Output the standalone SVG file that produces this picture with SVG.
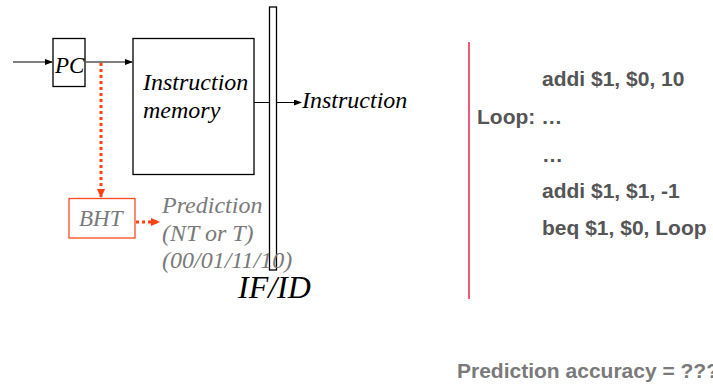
<svg xmlns="http://www.w3.org/2000/svg" width="713" height="387" viewBox="0 0 713 387">
<style>
.box{fill:#fff;stroke:#000;stroke-width:1.3}
.ser{font-family:"Liberation Serif","Times New Roman",serif;font-style:italic}
.wire{stroke:#000;stroke-width:1.2;fill:none}
.dot{stroke:#ff4010;stroke-width:3;stroke-dasharray:3 3;fill:none}
.code{font-family:"Liberation Sans",Arial,sans-serif;font-weight:bold;font-size:21px;fill:#555}
.pred{fill:#7a7a7a}
</style>
<defs>
<marker id="ah" markerWidth="8" markerHeight="6" refX="7" refY="3" orient="auto" markerUnits="userSpaceOnUse">
<path d="M0,0 L8,3 L0,6 Z" fill="#000"/>
</marker>
<marker id="rh" markerWidth="9" markerHeight="8" refX="8" refY="4" orient="auto" markerUnits="userSpaceOnUse">
<path d="M0,0 L9,4 L0,8 Z" fill="#ff4010"/>
</marker>
</defs>
<rect width="713" height="387" fill="#fff"/>
<g id="connectors">
<line class="wire" x1="13" y1="62" x2="52" y2="62" marker-end="url(#ah)"/>
<line class="wire" x1="86" y1="62" x2="132" y2="62" marker-end="url(#ah)"/>
<line class="wire" x1="254" y1="102.5" x2="301" y2="102.5" marker-end="url(#ah)"/>
<line class="dot" x1="101" y1="63" x2="101" y2="197" marker-end="url(#rh)"/>
<line class="dot" x1="136" y1="222" x2="159" y2="222" marker-end="url(#rh)"/>
</g>
<g id="pc">
<rect class="box" x="53" y="38.5" width="32" height="48"/>
<text class="ser" x="55" y="73" font-size="23">PC</text>
</g>
<g id="imem">
<rect class="box" x="133" y="38.5" width="121" height="136"/>
<text class="ser" x="143" y="90" font-size="24">Instruction</text>
<text class="ser" x="143" y="118" font-size="24">memory</text>
</g>
<g id="ifid">
<rect class="box" x="269.5" y="7" width="7" height="263" fill="none"/>
<text class="ser" x="238" y="298" font-size="32">IF/ID</text>
</g>
<text class="ser" x="302" y="108" font-size="24">Instruction</text>
<g id="bht">
<rect x="69" y="198.5" width="66" height="39.5" fill="#fff" stroke="#ff4a20" stroke-width="1.3"/>
<text class="ser pred" x="79" y="226" font-size="23">BHT</text>
</g>
<g id="prediction">
<text class="ser pred" x="162" y="213" font-size="24">Prediction</text>
<text class="ser pred" x="162" y="241" font-size="24">(NT or T)</text>
<text class="ser pred" x="162" y="268" font-size="24">(00/01/11/10)</text>
</g>
<line x1="469" y1="42" x2="469" y2="299" stroke="#f0204a" stroke-width="1.5"/>
<g id="code">
<text class="code" x="542" y="86">addi $1, $0, 10</text>
<text class="code" x="477" y="124">Loop: …</text>
<text class="code" x="542" y="162">…</text>
<text class="code" x="542" y="198">addi $1, $1, -1</text>
<text class="code" x="542" y="235">beq $1, $0, Loop</text>
</g>
<text x="457" y="378" font-family="'Liberation Sans',Arial,sans-serif" font-weight="bold" font-size="21" fill="#7a7a7a">Prediction accuracy = ???</text>
</svg>
